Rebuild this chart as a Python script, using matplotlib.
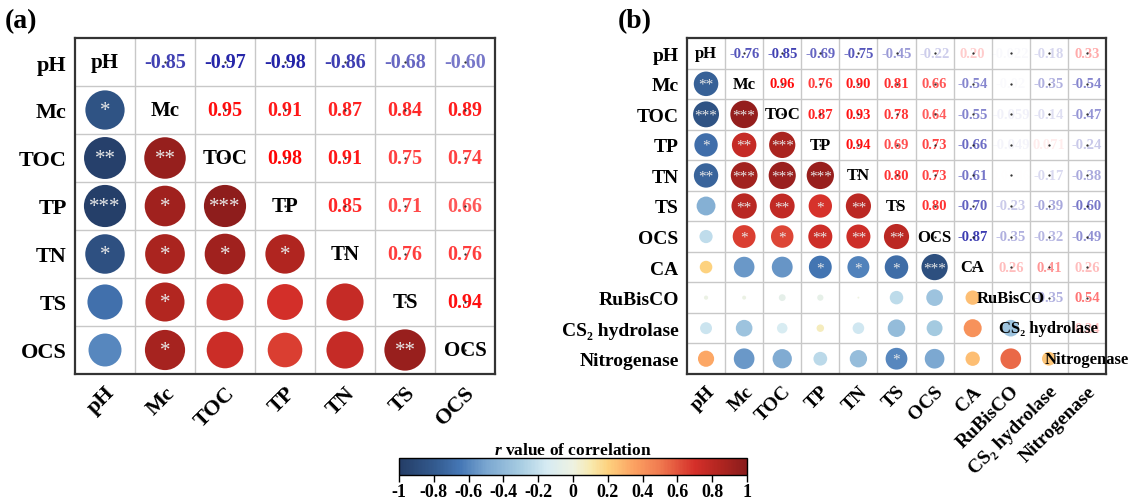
import numpy as np
import matplotlib
matplotlib.use('Agg')
import matplotlib.pyplot as plt
from matplotlib.colors import LinearSegmentedColormap, Normalize
from matplotlib.cm import ScalarMappable
from matplotlib.transforms import ScaledTranslation

plt.rcParams['font.family'] = ['Liberation Serif', 'DejaVu Serif']
plt.rcParams['font.weight'] = 'bold'
plt.rcParams['mathtext.fontset'] = 'custom'
plt.rcParams['mathtext.it'] = 'Liberation Serif:bold:italic'

# ---- panel (a) data ----
labels_a = ['pH', 'Mc', 'TOC', 'TP', 'TN', 'TS', 'OCS']
upper_a = [
    [-0.85, -0.97, -0.98, -0.86, -0.68, -0.60],
    [0.95, 0.91, 0.87, 0.84, 0.89],
    [0.98, 0.91, 0.75, 0.74],
    [0.85, 0.71, 0.66],
    [0.76, 0.76],
    [0.94],
]
stars_a = [
    ['*'],
    ['**', '**'],
    ['***', '*', '***'],
    ['*', '*', '*', '*'],
    ['', '*', '', '', ''],
    ['', '*', '', '', '', '**'],
]

# ---- panel (b) data ----
labels_b = ['pH', 'Mc', 'TOC', 'TP', 'TN', 'TS', 'OCS', 'CA', 'RuBisCO',
            'CS\u2082 hydrolase', 'Nitrogenase']
upper_b = [
    [-0.76, -0.85, -0.69, -0.75, -0.45, -0.22, 0.20, -0.022, -0.18, 0.33],
    [0.96, 0.76, 0.90, 0.81, 0.66, -0.54, -0.020, -0.35, -0.54],
    [0.87, 0.93, 0.78, 0.64, -0.55, -0.059, -0.14, -0.47],
    [0.94, 0.69, 0.73, -0.66, -0.049, 0.071, -0.24],
    [0.80, 0.73, -0.61, 0.0046, -0.17, -0.38],
    [0.80, -0.70, -0.23, -0.39, -0.60],
    [-0.87, -0.35, -0.32, -0.49],
    [0.26, 0.41, 0.26],
    [-0.35, 0.54],
    [0.24],
]
stars_b = [
    ['**'],
    ['***', '***'],
    ['*', '**', '***'],
    ['**', '***', '***', '***'],
    ['', '**', '**', '*', '**'],
    ['', '*', '*', '**', '**', '**'],
    ['', '', '', '*', '*', '*', '***'],
    ['', '', '', '', '', '', '', ''],
    ['', '', '', '', '', '', '', '', ''],
    ['', '', '', '', '', '*', '', '', '', ''],
]

cmap = LinearSegmentedColormap.from_list('corr', [
    (0.0, '#243d66'), (0.1, '#335a8e'), (0.175, '#4577b5'),
    (0.25, '#7aa6d0'), (0.35, '#a8cde2'), (0.425, '#d6ebf3'),
    (0.5, '#eef2e2'), (0.55, '#f8eab0'), (0.6, '#fdd27f'),
    (0.675, '#fca262'), (0.75, '#f07a50'), (0.85, '#d5302a'),
    (0.925, '#b02520'), (1.0, '#8a1c1c')])
norm = Normalize(-1, 1)


def full_matrix(upper):
    n = len(upper) + 1
    m = np.eye(n)
    for i, row in enumerate(upper):
        for k, v in enumerate(row):
            j = i + 1 + k
            m[i, j] = v
            m[j, i] = v
    return m


def fmt(v):
    if abs(v) >= 0.1:
        return '%.2f' % v
    return '%.2g' % v


def corrplot(ax, labels, upper, stars, smax, fs_lab, fs_diag, fs_val, fs_star,
             xoff, yoff):
    n = len(labels)
    m = full_matrix(upper)
    ax.set_xlim(0, n)
    ax.set_ylim(n, 0)
    # grid
    for k in range(1, n):
        ax.axhline(k, color='#c8c8c8', lw=1, zorder=0)
        ax.axvline(k, color='#c8c8c8', lw=1, zorder=0)
    # lower triangle circles
    xs, ys, vs = [], [], []
    for i in range(1, n):
        for j in range(i):
            xs.append(j + 0.5)
            ys.append(i + 0.5)
            vs.append(m[i, j])
    vs = np.array(vs)
    ax.scatter(xs, ys, s=np.abs(vs) * smax, c=vs, cmap=cmap, norm=norm,
               edgecolors='none', zorder=2)
    for i in range(1, n):
        for j in range(i):
            st = stars[i - 1][j]
            if st:
                ax.text(j + 0.5, i + 0.52, st, ha='center', va='center',
                        fontsize=fs_star, color='#e8e8e8', fontweight='normal',
                        zorder=3)
    # upper triangle values
    dx, dy = [], []
    for i in range(n):
        for j in range(i + 1, n):
            v = m[i, j]
            col = (1.0, 0.0, 0.0) if v > 0 else (0.12, 0.12, 0.65)
            ax.text(j + 0.5, i + 0.5, fmt(v), ha='center', va='center',
                    fontsize=fs_val, color=col, alpha=min(abs(v), 1.0),
                    fontweight='bold', zorder=3)
            dx.append(j + 0.5)
            dy.append(i + 0.5)
    # diagonal labels
    for i in range(n):
        ax.text(i + 0.5, i + 0.5, labels[i], ha='center', va='center',
                fontsize=fs_diag, fontweight='bold', color='black', zorder=4)
        dx.append(i + 0.5)
        dy.append(i + 0.5)
    ax.plot(dx, dy, '.', ms=1.2, color='#222222', zorder=5)

    ax.set_xticks(np.arange(n) + 0.5)
    ax.set_yticks(np.arange(n) + 0.5)
    ax.set_yticklabels(labels, fontsize=fs_lab, fontweight='bold')
    ax.set_xticklabels(labels, fontsize=fs_lab, fontweight='bold',
                       rotation=45, ha='right', va='top',
                       rotation_mode='anchor')
    shift = ScaledTranslation(xoff / 100, -yoff / 100, ax.figure.dpi_scale_trans)
    for lbl in ax.get_xticklabels():
        lbl.set_transform(lbl.get_transform() + shift)
    ax.tick_params(length=0, pad=6)
    for sp in ax.spines.values():
        sp.set_linewidth(1.6)
        sp.set_color('#333333')


fig = plt.figure(figsize=(11.29, 5.02), dpi=100)
W, H = 1129, 502
ax_a = fig.add_axes([75 / W, 1 - 375 / H, 420 / W, 336 / H])
ax_b = fig.add_axes([687 / W, 1 - 375 / H, 419 / W, 336 / H])

corrplot(ax_a, labels_a, upper_a, stars_a, smax=940, fs_lab=16, fs_diag=15,
         fs_val=14.5, fs_star=15, xoff=12, yoff=10)
corrplot(ax_b, labels_b, upper_b, stars_b, smax=410, fs_lab=14, fs_diag=12,
         fs_val=10.5, fs_star=11, xoff=12, yoff=10)

fig.text(5 / W, 1 - 28 / H, '(a)', fontsize=20, fontweight='bold')
fig.text(618 / W, 1 - 28 / H, '(b)', fontsize=20, fontweight='bold')

# colorbar
cax = fig.add_axes([399 / W, 1 - 476 / H, 348 / W, 17 / H])
cb = fig.colorbar(ScalarMappable(norm=norm, cmap=cmap), cax=cax,
                  orientation='horizontal')
ticks = np.round(np.arange(-1, 1.01, 0.2), 1)
cb.set_ticks(ticks)
cb.set_ticklabels(['%g' % t if t != 0 else '0' for t in ticks])
cax.tick_params(labelsize=13, length=5, width=1, direction='out', pad=1)
for lbl in cax.get_xticklabels():
    lbl.set_fontweight('bold')
cb.outline.set_linewidth(1)
cax.set_title(r'$r$ value of correlation', fontsize=12.5, fontweight='bold',
              pad=3)

fig.savefig('out.png', dpi=100)
